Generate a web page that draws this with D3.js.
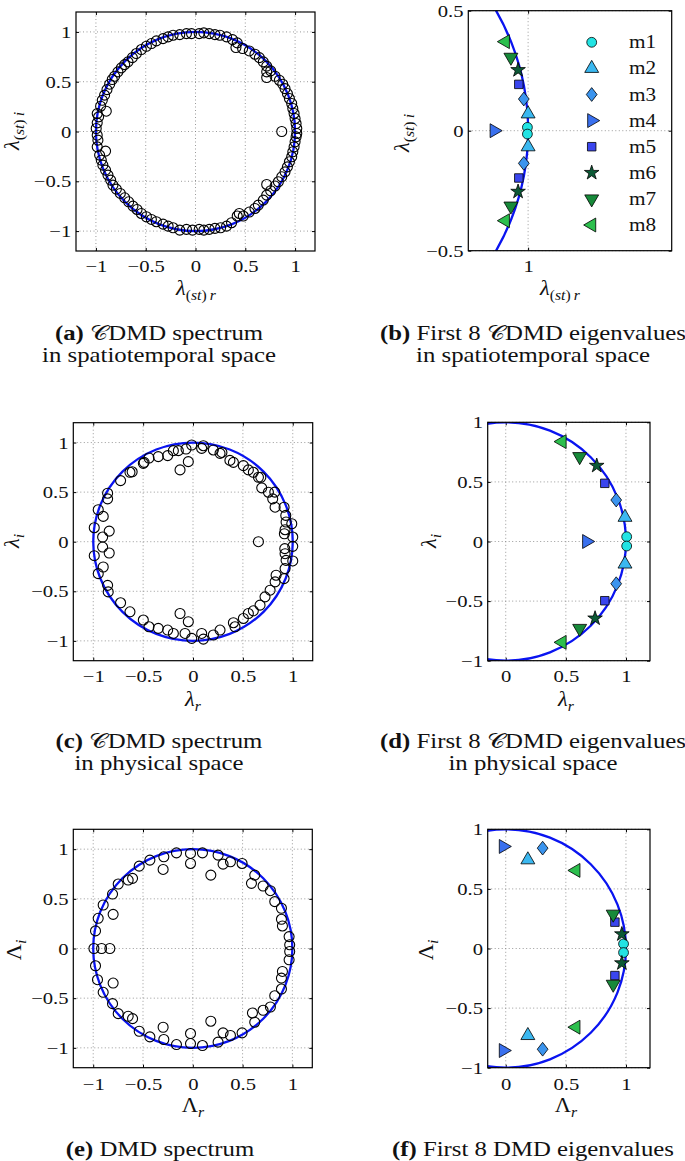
<!DOCTYPE html>
<html>
<head>
<meta charset="utf-8">
<title>CDMD spectra</title>
<script src="https://cdn.jsdelivr.net/npm/d3@7"></script>
<style>
  body { margin: 0; background: #fff; }
  svg text { font-family: "Liberation Serif", "Times New Roman", serif; fill: #111; }
</style>
</head>
<body>
<svg width="685" height="1161" id="mainsvg"></svg>
<script>
// ---- data ----
const ticksFull = [-1, -0.5, 0, 0.5, 1];
const ticksHalf = [0, 0.5, 1];
const ticksZoomX = [1];
const ticksZoomY = [-0.5, 0, 0.5];
const modeNames = ['m1', 'm2', 'm3', 'm4', 'm5', 'm6', 'm7', 'm8'];

// (a) CDMD spectrum, spatiotemporal space
const specST = [
  [-0.997,0.03],[-0.987,0.087],[-0.973,0.147],[-0.987,0.18],[-0.896,0.204],[-0.953,0.254],[-0.936,0.314],
  [-0.913,0.365],[-0.889,0.421],[-0.862,0.475],[-0.836,0.522],[-0.812,0.555],[-0.779,0.599],[-0.745,0.639],
  [-0.711,0.672],[-0.678,0.699],[-0.634,0.742],[-0.594,0.783],[-0.544,0.823],[-0.493,0.856],[-0.443,0.883],
  [-0.393,0.91],[-0.326,0.933],[-0.275,0.95],[-0.225,0.967],[-0.158,0.973],[-0.091,0.983],[-0.04,0.983],
  [0.037,0.983],[0.084,0.99],[0.138,0.983],[0.195,0.973],[0.245,0.967],[0.312,0.95],[0.372,0.923],
  [0.419,0.89],[0.406,0.843],[0.473,0.833],[0.54,0.809],[0.597,0.776],[0.641,0.742],[0.681,0.699],
  [0.715,0.656],[0.755,0.609],[0.715,0.599],[0.799,0.555],[0.715,0.542],[0.842,0.515],[0.876,0.475],
  [0.899,0.431],[0.923,0.381],[0.943,0.331],[0.966,0.281],[0.977,0.231],[0.99,0.181],[1.0,0.13],
  [1.01,0.08],[1.017,0.03],[0.866,0],
  [-0.987,-0.037],[-0.98,-0.087],[-0.987,-0.154],[-0.903,-0.197],[-0.963,-0.237],[-0.946,-0.288],
  [-0.93,-0.338],[-0.903,-0.388],[-0.879,-0.438],[-0.852,-0.488],[-0.829,-0.538],[-0.795,-0.579],
  [-0.755,-0.622],[-0.711,-0.666],[-0.671,-0.706],[-0.628,-0.749],[-0.587,-0.783],[-0.544,-0.823],
  [-0.493,-0.856],[-0.443,-0.883],[-0.393,-0.906],[-0.326,-0.93],[-0.275,-0.95],[-0.225,-0.967],
  [-0.158,-0.99],[-0.091,-0.983],[-0.03,-0.99],[0.037,-0.983],[0.084,-0.99],[0.138,-0.983],[0.195,-0.973],
  [0.252,-0.967],[0.312,-0.95],[0.362,-0.916],[0.419,-0.849],[0.44,-0.823],[0.48,-0.849],[0.54,-0.809],
  [0.597,-0.773],[0.631,-0.739],[0.681,-0.689],[0.715,-0.639],[0.715,-0.532],[0.755,-0.595],[0.799,-0.548],
  [0.832,-0.505],[0.866,-0.455],[0.899,-0.405],[0.923,-0.355],[0.943,-0.304],[0.966,-0.254],[0.977,-0.204],
  [0.99,-0.154],[1.0,-0.104],[1.01,-0.054],[1.017,-0.02]
];

// (c) CDMD spectrum, physical space
const specPhys = [
  [-0.99,0.141],[-0.95,0.322],[-0.9,0.255],[-0.856,0.489],[-0.856,0.432],[-0.84,0.107],[-0.906,0.047],
  [-0.726,0.616],[-0.632,0.7],[-0.61,0.705],[-0.498,0.79],[-0.49,0.8],[-0.441,0.844],[-0.348,0.858],
  [-0.254,0.868],[-0.197,0.918],[-0.147,0.918],[-0.07,0.935],[-0.013,0.975],[-0.13,0.724],[-0.047,0.807],
  [0.087,0.941],[0.104,0.968],[0.204,0.925],[0.271,0.891],[0.29,0.9],[0.37,0.82],[0.405,0.8],[0.505,0.767],
  [0.555,0.724],[0.605,0.7],[0.656,0.65],[0.68,0.65],[0.689,0.543],[0.756,0.499],[0.799,0.432],[0.82,0.5],
  [0.823,0.348],[0.913,0.348],[0.93,0.265],[0.933,0.198],[0.923,0.121],[0.916,0.08],[0.99,0.181],
  [1.0,0.047],[0.656,0],
  [-0.99,-0.141],[-0.95,-0.322],[-0.9,-0.255],[-0.856,-0.44],[-0.85,-0.506],[-0.84,-0.114],[-0.906,-0.054],
  [-0.726,-0.616],[-0.632,-0.707],[-0.498,-0.79],[-0.441,-0.858],[-0.348,-0.874],[-0.254,-0.891],
  [-0.197,-0.925],[-0.08,-0.925],[-0.013,-0.975],[-0.13,-0.724],[-0.047,-0.807],[0.087,-0.925],
  [0.104,-0.982],[0.204,-0.941],[0.271,-0.891],[0.405,-0.817],[0.421,-0.858],[0.505,-0.774],[0.555,-0.724],
  [0.605,-0.697],[0.672,-0.64],[0.722,-0.556],[0.773,-0.489],[0.823,-0.405],[0.833,-0.338],[0.913,-0.372],
  [0.923,-0.271],[0.933,-0.188],[0.923,-0.121],[1.0,-0.194],[1.0,-0.047],[0.92,-0.07]
];

// (e) DMD spectrum
const specDMD = [
  [-0.993,0],[-0.916,0],[-0.833,0],
  [-0.977,0.177],[-0.95,0.304],[-0.9,0.438],[-0.8,0.344],[-0.806,0.548],[-0.749,0.649],[-0.649,0.689],
  [-0.605,0.706],[-0.538,0.829],[-0.431,0.89],[-0.291,0.923],[-0.298,0.796],[-0.164,0.963],[-0.023,0.957],
  [-0.023,0.856],[0.097,0.963],[0.181,0.739],[0.254,0.94],[0.304,0.849],[0.378,0.873],[0.495,0.856],
  [0.622,0.739],[0.589,0.656],[0.706,0.629],[0.779,0.582],[0.823,0.472],[0.89,0.405],[0.89,0.294],
  [0.9,0.227],[0.967,0.12],[0.973,0.037],
  [-0.977,-0.174],[-0.957,-0.314],[-0.9,-0.441],[-0.8,-0.348],[-0.806,-0.555],[-0.749,-0.656],
  [-0.649,-0.682],[-0.605,-0.706],[-0.538,-0.833],[-0.431,-0.89],[-0.291,-0.916],[-0.298,-0.793],
  [-0.164,-0.967],[-0.023,-0.957],[-0.023,-0.856],[0.097,-0.977],[0.181,-0.732],[0.254,-0.943],
  [0.304,-0.849],[0.378,-0.876],[0.495,-0.849],[0.599,-0.649],[0.622,-0.742],[0.706,-0.622],
  [0.779,-0.589],[0.823,-0.475],[0.89,-0.408],[0.89,-0.298],[0.9,-0.231],[0.967,-0.114],[0.973,-0.03]
];

// first 8 eigenvalues, one list per mode m1..m8
const eigST = [
  [[0.997,0.014],[0.997,-0.014]],
  [[1.0,0.07],[1.0,-0.067]],
  [[0.982,0.132],[0.982,-0.136]],
  [[0.858,0]],
  [[0.961,0.193],[0.961,-0.197]],
  [[0.958,0.253],[0.958,-0.254]],
  [[0.928,0.306],[0.928,-0.314]],
  [[0.905,0.371],[0.905,-0.375]]
];
const eigPhys = [
  [[1.006,0.04],[1.006,-0.038]],
  [[0.992,0.203],[0.992,-0.189]],
  [[0.919,0.348],[0.919,-0.354]],
  [[0.673,0]],
  [[0.824,0.488],[0.824,-0.497]],
  [[0.757,0.636],[0.743,-0.645]],
  [[0.615,0.712],[0.615,-0.729]],
  [[0.469,0.838],[0.469,-0.846]]
];
const eigDMD = [
  [[0.98,0.039],[0.98,-0.034]],
  [[0.184,0.744],[0.184,-0.73]],
  [[0.307,0.842],[0.307,-0.845]],
  [[-0.02,0.856],[-0.02,-0.856]],
  [[0.908,0.221],[0.908,-0.227]],
  [[0.966,0.12],[0.966,-0.123]],
  [[0.894,0.288],[0.894,-0.3]],
  [[0.584,0.655],[0.584,-0.66]]
];

const captionTags = ['(a)', '(b)', '(c)', '(d)', '(e)', '(f)'];
const captionLine1 = ['\u{1D49E}DMD spectrum', 'First 8 \u{1D49E}DMD eigenvalues', '\u{1D49E}DMD spectrum',
                      'First 8 \u{1D49E}DMD eigenvalues', 'DMD spectrum', 'First 8 DMD eigenvalues'];
const captionLine2 = ['in spatiotemporal space', 'in spatiotemporal space', 'in physical space',
                      'in physical space', '', ''];

// ---- styles ----
const wide = 'scale(1.18,1)';   // widen Times glyphs toward the Computer Modern look
const modeFill = ['#22e3e3', '#3bb8f0', '#3b94ee', '#3a70ee', '#3a45ee', '#0c5a36', '#178a3a', '#2cbf4d'];
const modeShape = ['circle', 'up', 'diamond', 'right', 'square', 'star', 'down', 'left'];

const svg = d3.select('#mainsvg');
const fmt = d3.format('');

const diamondType = {
  draw(ctx, size) {
    const h = Math.sqrt(size) * 0.8, w = h * 0.78;
    ctx.moveTo(0, -h); ctx.lineTo(w, 0); ctx.lineTo(0, h); ctx.lineTo(-w, 0); ctx.closePath();
  }
};

function markerPath(shape) {
  if (shape === 'circle') return d3.symbol().type(d3.symbolCircle).size(76)();
  if (shape === 'square') return d3.symbol().type(d3.symbolSquare).size(72)();
  if (shape === 'diamond') return d3.symbol().type(diamondType).size(74)();
  if (shape === 'star') return d3.symbol().type(d3.symbolStar).size(66)();
  return d3.symbol().type(d3.symbolTriangle).size(84)();
}
const shapeRot = {up: 0, down: 180, right: 90, left: -90, circle: 0, square: 0, diamond: 0, star: 0};

// axis labels: main glyph + subscript parts [text, italic]
function axisLabel(sel, main, mainItalic, subParts) {
  sel.append('tspan').text(main).attr('font-style', mainItalic ? 'italic' : 'normal');
  subParts.forEach((s, i) => {
    const t = sel.append('tspan').text(s[0]).attr('font-size', 14)
      .attr('font-style', s[1] ? 'italic' : 'normal');
    if (i === 0) t.attr('dy', 5);
  });
}
const subST = [['(', false], ['st', true], [')', false], ['\u2009r', true]];
const subSTi = [['(', false], ['st', true], [')', false], ['\u2009i', true]];

const panels = [
  {id: 'a', left: 76, right: 315, top: 12, bottom: 251, xd: [-1.2, 1.2], yd: [-1.2, 1.2], pad: 9,
   xt: ticksFull, yt: ticksFull, spec: specST, greek: '\u03bb', it: true, xs: subST, ys: subSTi,
   xl: [196, 295], yl: [19, 131]},
  {id: 'b', left: 468.3, right: 671.7, top: 10.7, bottom: 250.7, xd: [0.75, 1.6], yd: [-0.5, 0.5], pad: 9,
   xt: ticksZoomX, yt: ticksZoomY, eig: eigST, legend: true, greek: '\u03bb', it: true, xs: subST, ys: subSTi,
   xl: [560, 295], yl: [409, 133]},
  {id: 'c', left: 73.3, right: 312.7, top: 422.7, bottom: 660.7, xd: [-1.2, 1.2], yd: [-1.2, 1.2], pad: 9,
   xt: ticksFull, yt: ticksFull, spec: specPhys, greek: '\u03bb', it: true, xs: [['r', true]], ys: [['i', true]],
   xl: [193, 706], yl: [19, 541]},
  {id: 'd', left: 487.7, right: 650, top: 422.3, bottom: 660.7, xd: [-0.15, 1.2], yd: [-1, 1], pad: 9,
   xt: ticksHalf, yt: ticksFull, eig: eigPhys, greek: '\u03bb', it: true, xs: [['r', true]], ys: [['i', true]],
   xl: [566, 706], yl: [436, 541]},
  {id: 'e', left: 73.3, right: 312.3, top: 829.3, bottom: 1067.7, xd: [-1.2, 1.2], yd: [-1.2, 1.2], pad: 10,
   xt: ticksFull, yt: ticksFull, spec: specDMD, greek: '\u039b', it: false, xs: [['r', true]], ys: [['i', true]],
   xl: [193, 1112], yl: [21, 950]},
  {id: 'f', left: 487.7, right: 650, top: 829.3, bottom: 1067.7, xd: [-0.15, 1.2], yd: [-1, 1], pad: 10,
   xt: ticksHalf, yt: ticksFull, eig: eigDMD, greek: '\u039b', it: false, xs: [['r', true]], ys: [['i', true]],
   xl: [566, 1112], yl: [433, 950]}
];

panels.forEach(p => {
  const x = d3.scaleLinear().domain(p.xd).range([p.left, p.right]);
  const y = d3.scaleLinear().domain(p.yd).range([p.bottom, p.top]);
  const g = svg.append('g').attr('id', 'panel-' + p.id);

  svg.append('clipPath').attr('id', 'clip-' + p.id).append('rect')
    .attr('x', p.left).attr('y', p.top)
    .attr('width', p.right - p.left).attr('height', p.bottom - p.top);

  // dotted grid
  g.append('g').selectAll('line').data(p.xt).join('line')
    .attr('x1', d => x(d)).attr('x2', d => x(d)).attr('y1', p.top).attr('y2', p.bottom)
    .attr('stroke', '#808080').attr('stroke-width', 0.8).attr('stroke-dasharray', '1,2.5');
  g.append('g').selectAll('line').data(p.yt).join('line')
    .attr('y1', d => y(d)).attr('y2', d => y(d)).attr('x1', p.left).attr('x2', p.right)
    .attr('stroke', '#808080').attr('stroke-width', 0.8).attr('stroke-dasharray', '1,2.5');

  // axes with inward ticks
  const styleAxis = a => {
    a.select('.domain').remove();
    a.attr('font-size', 17.5).attr('font-family', null);
    a.selectAll('.tick line').attr('stroke', '#000');
    a.selectAll('.tick text').attr('fill', '#111').attr('transform', wide);
  };
  g.append('g').attr('transform', `translate(0,${p.bottom})`)
    .call(d3.axisBottom(x).tickValues(p.xt).tickSize(-3).tickPadding(p.pad).tickFormat(fmt)).call(styleAxis);
  g.append('g').attr('transform', `translate(${p.left},0)`)
    .call(d3.axisLeft(y).tickValues(p.yt).tickSize(-3).tickPadding(4).tickFormat(fmt)).call(styleAxis);
  g.append('g').attr('transform', `translate(0,${p.top})`)
    .call(d3.axisTop(x).tickValues(p.xt).tickSize(-3).tickFormat('')).call(styleAxis);
  g.append('g').attr('transform', `translate(${p.right},0)`)
    .call(d3.axisRight(y).tickValues(p.yt).tickSize(-3).tickFormat('')).call(styleAxis);

  // unit circle
  g.append('ellipse')
    .attr('cx', x(0)).attr('cy', y(0))
    .attr('rx', x(1) - x(0)).attr('ry', y(0) - y(1))
    .attr('fill', 'none').attr('stroke', '#0a14f0').attr('stroke-width', 2.3)
    .attr('clip-path', `url(#clip-${p.id})`);

  // open-circle spectrum
  if (p.spec) {
    g.append('g').selectAll('circle').data(p.spec).join('circle')
      .attr('cx', d => x(d[0])).attr('cy', d => y(d[1])).attr('r', 5)
      .attr('fill', 'none').attr('stroke', '#000').attr('stroke-width', 1.1);
  }

  // coloured mode markers
  if (p.eig) {
    p.eig.forEach((pts, k) => {
      g.append('g').selectAll('path').data(pts).join('path')
        .attr('d', markerPath(modeShape[k]))
        .attr('transform', d => `translate(${x(d[0])},${y(d[1])}) rotate(${shapeRot[modeShape[k]]})`)
        .attr('fill', modeFill[k]).attr('stroke', '#000').attr('stroke-width', 0.8);
    });
  }

  // legend (panel b)
  if (p.legend) {
    const lg = g.append('g');
    modeNames.forEach((name, k) => {
      const ly = 42.3 + k * 26.1;
      lg.append('path').attr('d', markerPath(modeShape[k]))
        .attr('transform', `translate(591.7,${ly}) rotate(${shapeRot[modeShape[k]]})`)
        .attr('fill', modeFill[k]).attr('stroke', '#000').attr('stroke-width', 0.8);
      lg.append('text').attr('transform', `translate(629,${ly + 6}) ${wide}`)
        .attr('font-size', 18).text(name);
    });
  }

  // box
  g.append('rect').attr('x', p.left).attr('y', p.top)
    .attr('width', p.right - p.left).attr('height', p.bottom - p.top)
    .attr('fill', 'none').attr('stroke', '#000').attr('stroke-width', 1.2);

  // axis labels
  const xl = g.append('text').attr('transform', `translate(${p.xl[0]},${p.xl[1]}) scale(1.12,1)`)
    .attr('text-anchor', 'middle').attr('font-size', 20);
  axisLabel(xl, p.greek, p.it, p.xs);
  const yl = g.append('text')
    .attr('transform', `translate(${p.yl[0]},${p.yl[1]}) rotate(-90) scale(1.12,1)`)
    .attr('text-anchor', 'middle').attr('font-size', 20);
  axisLabel(yl, p.greek, p.it, p.ys);
});

// captions: [centre x, baseline line 1, baseline line 2]
const capPos = [
  [159, 340, 362], [533, 340, 362],
  [159, 748, 770], [533, 748, 770],
  [160, 1156, 0], [533, 1156, 0]
];
captionTags.forEach((tag, i) => {
  const c = capPos[i];
  const t1 = svg.append('text').attr('transform', `translate(${c[0]},${c[1]}) ${wide}`)
    .attr('text-anchor', 'middle').attr('font-size', 21);
  t1.append('tspan').attr('font-weight', 'bold').text(tag + ' ');
  t1.append('tspan').text(captionLine1[i]);
  if (captionLine2[i]) {
    svg.append('text').attr('transform', `translate(${c[0]},${c[2]}) ${wide}`)
      .attr('text-anchor', 'middle').attr('font-size', 21).text(captionLine2[i]);
  }
});
</script>
</body>
</html>
